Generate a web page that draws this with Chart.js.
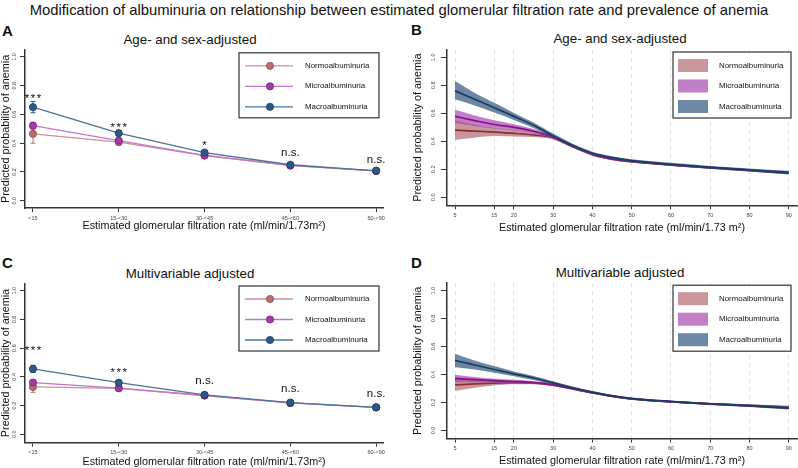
<!DOCTYPE html>
<html><head><meta charset="utf-8">
<script src="https://cdn.jsdelivr.net/npm/chart.js@4.4.0/dist/chart.umd.min.js"></script>
<style>
html,body{margin:0;padding:0;background:#fff;}
#wrap{position:relative;width:798px;height:468px;overflow:hidden;font-family:"Liberation Sans",Arial,sans-serif;background:#fff;}
canvas{position:absolute;left:0;top:0;}
.t{position:absolute;white-space:nowrap;color:#111;line-height:16px;}
.ttl{font-size:13.3px;text-align:center;width:300px;}
.lt{font-size:15px;font-weight:bold;}
</style></head><body>
<div id="wrap">
  <div class="t" style="left:0;top:2px;width:798px;text-align:center;font-size:14.8px;">Modification of albuminuria on relationship between estimated glomerular filtration rate and prevalence of anemia</div>
  <div class="t lt" style="left:2px;top:23px;">A</div>
  <div class="t lt" style="left:411px;top:22px;">B</div>
  <div class="t lt" style="left:2px;top:255px;">C</div>
  <div class="t lt" style="left:411px;top:255px;">D</div>
  <div class="t ttl" style="left:40px;top:32px;">Age- and sex-adjusted</div>
  <div class="t ttl" style="left:470px;top:31px;">Age- and sex-adjusted</div>
  <div class="t ttl" style="left:40px;top:266px;">Multivariable adjusted</div>
  <div class="t ttl" style="left:470px;top:265px;">Multivariable adjusted</div>
  <canvas id="cA" width="798" height="468"></canvas>
  <canvas id="cB" width="798" height="468"></canvas>
  <canvas id="cC" width="798" height="468"></canvas>
  <canvas id="cD" width="798" height="468"></canvas>
</div>
<script>
// ---------- data ----------
const egfrGroups = ['<15', '15-<30', '30-<45', '45-<60', '60-<90'];
const seriesNames = ['Normoalbuminuria', 'Microalbuminuria', 'Macroalbuminuria'];
const yTickValues = [0, 0.2, 0.4, 0.6, 0.8, 1.0];
const egfrTicks = [5, 15, 20, 30, 40, 50, 60, 70, 80, 90];

// Panel A: age- and sex-adjusted, categorical eGFR
const aNormo   = [0.465, 0.407, 0.314, 0.244, 0.207];
const aNormoLo = [0.400, 0.390, 0.305, 0.238, 0.202];
const aNormoHi = [0.530, 0.425, 0.323, 0.250, 0.212];
const aMicro   = [0.522, 0.418, 0.316, 0.245, 0.207];
const aMicroLo = [0.500, 0.402, 0.307, 0.239, 0.202];
const aMicroHi = [0.545, 0.435, 0.325, 0.251, 0.212];
const aMacro   = [0.651, 0.470, 0.335, 0.250, 0.208];
const aMacroLo = [0.612, 0.455, 0.325, 0.243, 0.203];
const aMacroHi = [0.690, 0.485, 0.345, 0.257, 0.213];
const aSig  = ['***', '***', '*', 'n.s.', 'n.s.'];
const aSigY = [0.687, 0.485, 0.362, 0.311, 0.262];

// Panel C: multivariable adjusted, categorical eGFR
const cNormo   = [0.330, 0.320, 0.270, 0.218, 0.187];
const cNormoLo = [0.292, 0.308, 0.263, 0.213, 0.183];
const cNormoHi = [0.365, 0.332, 0.277, 0.223, 0.191];
const cMicro   = [0.360, 0.322, 0.270, 0.218, 0.187];
const cMicroLo = [0.340, 0.310, 0.263, 0.213, 0.183];
const cMicroHi = [0.380, 0.335, 0.277, 0.223, 0.191];
const cMacro   = [0.455, 0.359, 0.275, 0.220, 0.188];
const cMacroLo = [0.430, 0.345, 0.267, 0.214, 0.184];
const cMacroHi = [0.480, 0.375, 0.283, 0.226, 0.192];
const cSig  = ['***', '***', 'n.s.', 'n.s.', 'n.s.'];
const cSigY = [0.561, 0.404, 0.352, 0.292, 0.260];

// Panels B & D: continuous eGFR
const egfr = [5, 10, 15, 20, 25, 30, 35, 40, 45, 50, 60, 70, 80, 90];
const bNormo   = [0.480, 0.473, 0.466, 0.457, 0.445, 0.425, 0.362, 0.305, 0.273, 0.255, 0.232, 0.212, 0.194, 0.177];
const bNormoHi = [0.550, 0.520, 0.495, 0.480, 0.460, 0.437, 0.372, 0.313, 0.281, 0.263, 0.240, 0.220, 0.202, 0.186];
const bNormoLo = [0.410, 0.426, 0.437, 0.434, 0.430, 0.413, 0.352, 0.297, 0.265, 0.247, 0.224, 0.204, 0.186, 0.168];
const bMicro   = [0.578, 0.548, 0.520, 0.500, 0.472, 0.430, 0.365, 0.308, 0.275, 0.256, 0.232, 0.212, 0.193, 0.174];
const bMicroHi = [0.625, 0.585, 0.550, 0.522, 0.488, 0.442, 0.375, 0.316, 0.283, 0.264, 0.240, 0.220, 0.202, 0.184];
const bMicroLo = [0.530, 0.510, 0.490, 0.478, 0.456, 0.418, 0.355, 0.300, 0.267, 0.248, 0.224, 0.204, 0.184, 0.164];
const bMacro   = [0.760, 0.700, 0.640, 0.578, 0.515, 0.440, 0.370, 0.315, 0.283, 0.262, 0.236, 0.214, 0.195, 0.176];
const bMacroHi = [0.830, 0.745, 0.675, 0.603, 0.535, 0.455, 0.382, 0.325, 0.293, 0.272, 0.246, 0.224, 0.206, 0.189];
const bMacroLo = [0.700, 0.655, 0.605, 0.553, 0.495, 0.425, 0.358, 0.305, 0.273, 0.252, 0.226, 0.204, 0.184, 0.163];

const dNormo   = [0.326, 0.333, 0.338, 0.342, 0.340, 0.326, 0.298, 0.270, 0.245, 0.227, 0.206, 0.191, 0.179, 0.167];
const dNormoHi = [0.370, 0.360, 0.355, 0.354, 0.350, 0.335, 0.306, 0.277, 0.252, 0.234, 0.213, 0.198, 0.187, 0.176];
const dNormoLo = [0.282, 0.306, 0.321, 0.330, 0.330, 0.317, 0.290, 0.263, 0.238, 0.220, 0.199, 0.184, 0.171, 0.158];
const dMicro   = [0.372, 0.363, 0.356, 0.350, 0.342, 0.326, 0.298, 0.270, 0.245, 0.226, 0.205, 0.190, 0.177, 0.164];
const dMicroHi = [0.398, 0.382, 0.370, 0.362, 0.352, 0.335, 0.306, 0.277, 0.252, 0.233, 0.212, 0.197, 0.185, 0.173];
const dMicroLo = [0.345, 0.344, 0.342, 0.338, 0.332, 0.317, 0.290, 0.263, 0.238, 0.219, 0.198, 0.183, 0.169, 0.155];
const dMacro   = [0.500, 0.468, 0.436, 0.405, 0.375, 0.340, 0.305, 0.274, 0.247, 0.228, 0.207, 0.190, 0.176, 0.160];
const dMacroHi = [0.548, 0.500, 0.460, 0.422, 0.390, 0.352, 0.315, 0.282, 0.255, 0.236, 0.214, 0.197, 0.184, 0.170];
const dMacroLo = [0.452, 0.436, 0.412, 0.388, 0.360, 0.328, 0.295, 0.266, 0.239, 0.220, 0.200, 0.183, 0.168, 0.150];

// ---------- styles ----------
const FONT = '"Liberation Sans", Arial, sans-serif';
const catStyle = [
  {line: '#c99199', marker: '#b5716f', edge: '#8e4a4a'},
  {line: '#c674c8', marker: '#a43aa6', edge: '#78207a'},
  {line: '#4a7497', marker: '#2c5a85', edge: '#1c3d5e'}
];
const bandStyle = [
  {band: 'rgba(178,106,112,0.7)', line: '#8a2f33'},
  {band: 'rgba(168,72,174,0.7)', line: '#880f8a'},
  {band: 'rgba(45,85,126,0.7)', line: '#1b3b61'}
];

Chart.defaults.font.family = FONT;
Chart.defaults.animation = false;

const yTickLabelPlugin = {
  id: 'yTickLabels',
  afterDraw(chart, args, opts) {
    const ctx = chart.ctx, ys = chart.scales.y, ca = chart.chartArea;
    ctx.save();
    ctx.fillStyle = '#444';
    ctx.font = '5.5px ' + FONT;
    ctx.textAlign = 'center';
    ctx.textBaseline = 'middle';
    ys.ticks.forEach(t => {
      const y = ys.getPixelForValue(t.value);
      ctx.save();
      ctx.translate(ca.left - opts.offset, y);
      ctx.rotate(-Math.PI / 2);
      ctx.fillText(t.value.toFixed(1), 0, 0);
      ctx.restore();
    });
    ctx.restore();
  }
};

const errorBarPlugin = {
  id: 'errorBars',
  beforeDatasetsDraw(chart) {
    const ctx = chart.ctx, xs = chart.scales.x, ys = chart.scales.y;
    ctx.save();
    ctx.lineWidth = 1;
    for (let i = chart.data.datasets.length - 1; i >= 0; i--) {
      const ds = chart.data.datasets[i];
      if (!ds.lo) continue;
      ctx.strokeStyle = ds.backgroundColor;
      ds.lo.forEach((lo, j) => {
        const x = xs.getPixelForValue(j);
        const y1 = ys.getPixelForValue(lo), y2 = ys.getPixelForValue(ds.hi[j]);
        ctx.beginPath();
        ctx.moveTo(x, y1); ctx.lineTo(x, y2);
        ctx.moveTo(x - 2.5, y1); ctx.lineTo(x + 2.5, y1);
        ctx.moveTo(x - 2.5, y2); ctx.lineTo(x + 2.5, y2);
        ctx.stroke();
      });
    }
    ctx.restore();
  }
};

const sigPlugin = {
  id: 'sigLabels',
  afterDatasetsDraw(chart, args, opts) {
    if (!opts.labels) return;
    const ctx = chart.ctx, xs = chart.scales.x, ys = chart.scales.y;
    ctx.save();
    ctx.fillStyle = '#111';
    ctx.font = '11.5px ' + FONT;
    ctx.textAlign = 'center';
    ctx.textBaseline = 'alphabetic';
    opts.labels.forEach((lab, j) => {
      const star = lab.indexOf('*') >= 0;
      try { ctx.letterSpacing = star ? '1.5px' : '0px'; } catch (e) {}
      ctx.fillText(lab, xs.getPixelForValue(j) + (star ? 0.75 : 0), ys.getPixelForValue(opts.y[j]));
    });
    ctx.restore();
  }
};

const legendPlugin = {
  id: 'boxLegend',
  afterDraw(chart, args, opts) {
    const ctx = chart.ctx, ca = chart.chartArea;
    const left = ca.right - opts.fromRight, top = ca.top + opts.fromTop;
    ctx.save();
    ctx.fillStyle = '#fff';
    ctx.fillRect(left, top, opts.w, opts.h);
    ctx.strokeStyle = '#333';
    ctx.lineWidth = 1.2;
    ctx.strokeRect(left, top, opts.w, opts.h);
    ctx.font = '7.9px ' + FONT;
    ctx.textBaseline = 'middle';
    ctx.textAlign = 'left';
    seriesNames.forEach((name, i) => {
      const y = top + opts.rows[i];
      if (opts.kind === 'cat') {
        const s = catStyle[i];
        ctx.strokeStyle = s.line; ctx.lineWidth = 1.3;
        ctx.beginPath(); ctx.moveTo(left + 6, y); ctx.lineTo(left + 54, y); ctx.stroke();
        ctx.beginPath(); ctx.arc(left + 31, y, 3.6, 0, Math.PI * 2);
        ctx.fillStyle = s.marker; ctx.fill();
        ctx.strokeStyle = s.edge; ctx.lineWidth = 0.8; ctx.stroke();
        ctx.fillStyle = '#111';
        ctx.fillText(name, left + 66, y);
      } else {
        ctx.fillStyle = bandStyle[i].band;
        ctx.fillRect(left + 5, y - 6.5, 30, 13);
        ctx.fillStyle = '#111';
        ctx.fillText(name, left + 46, y);
      }
    });
    ctx.restore();
  }
};

function yScaleOpts(min, max, width, titlePad, tickLen) {
  return {
    type: 'linear', min: min, max: max,
    afterBuildTicks: s => { s.ticks = yTickValues.map(v => ({value: v})); },
    afterFit: s => { s.width = width; },
    ticks: {display: false},
    grid: {display: true, drawOnChartArea: false, tickLength: tickLen, tickColor: '#333', tickWidth: 1},
    border: {display: true, color: '#333', width: 1.5},
    title: {display: true, text: 'Predicted probability of anemia', color: '#111',
            font: {size: 10.8, family: FONT}, padding: {top: titlePad, bottom: 0}}
  };
}

function catChart(id, pad, yMin, yMax, xH, xTitlePad, vals, los, his, sig, sigY, legendTop) {
  const datasets = vals.map((v, i) => ({
    label: seriesNames[i],
    data: v.map((y, j) => ({x: j, y: y})),
    lo: los[i], hi: his[i],
    borderColor: catStyle[i].line,
    backgroundColor: catStyle[i].marker,
    pointBackgroundColor: catStyle[i].marker,
    pointBorderColor: catStyle[i].edge,
    pointRadius: 3.6, pointBorderWidth: 0.8, borderWidth: 1.3,
    order: 3 - i, tension: 0
  }));
  new Chart(document.getElementById(id), {
    type: 'line',
    data: {datasets},
    plugins: [errorBarPlugin, sigPlugin, legendPlugin, yTickLabelPlugin],
    options: {
      responsive: false, devicePixelRatio: 1, animation: false,
      layout: {padding: pad},
      plugins: {
        legend: {display: false}, tooltip: {enabled: false},
        sigLabels: {labels: sig, y: sigY},
        boxLegend: {kind: 'cat', fromRight: 144, fromTop: legendTop, w: 140, h: 65, rows: [13, 33.5, 54]},
        yTickLabels: {offset: 11}
      },
      scales: {
        x: {
          type: 'linear', min: -0.093, max: 4.08,
          afterBuildTicks: s => { s.ticks = egfrGroups.map((g, j) => ({value: j})); },
          afterFit: s => { s.height = xH; },
          ticks: {callback: v => egfrGroups[v], font: {size: 5.5}, color: '#444', padding: 3, maxRotation: 0, autoSkip: false},
          grid: {display: true, drawOnChartArea: false, tickLength: 4, tickColor: '#333'},
          border: {display: true, color: '#333', width: 1.5},
          title: {display: true, text: 'Estimated glomerular filtration rate (ml/min/1.73m²)', color: '#111',
                  font: {size: 10.8, family: FONT}, padding: {top: 0, bottom: xTitlePad}}
        },
        y: yScaleOpts(yMin, yMax, 25, 0, 5)
      }
    }
  });
}

function bandChart(id, pad, yMin, yMax, xH, xTitlePad, mids, his, los) {
  const datasets = [];
  mids.forEach((m, i) => {
    const base = 100 - i * 10;
    const st = bandStyle[i];
    const idx = datasets.length;
    datasets.push({label: seriesNames[i] + ' upper', data: egfr.map((x, j) => ({x, y: his[i][j]})),
      borderWidth: 0, pointRadius: 0, backgroundColor: st.band, fill: idx + 1,
      cubicInterpolationMode: 'monotone', order: base});
    datasets.push({label: seriesNames[i] + ' lower', data: egfr.map((x, j) => ({x, y: los[i][j]})),
      borderWidth: 0, pointRadius: 0, backgroundColor: st.band, fill: false,
      cubicInterpolationMode: 'monotone', order: base - 1});
    datasets.push({label: seriesNames[i], data: egfr.map((x, j) => ({x, y: m[j]})),
      borderWidth: 1.7, pointRadius: 0, borderColor: st.line, fill: false,
      cubicInterpolationMode: 'monotone', order: base - 2});
  });
  new Chart(document.getElementById(id), {
    type: 'line',
    data: {datasets},
    plugins: [legendPlugin, yTickLabelPlugin],
    options: {
      responsive: false, devicePixelRatio: 1, animation: false,
      layout: {padding: pad},
      plugins: {
        legend: {display: false}, tooltip: {enabled: false},
        filler: {propagate: false},
        boxLegend: {kind: 'band', fromRight: 124, fromTop: 2, w: 118, h: 66, rows: [13.5, 34, 54.5]},
        yTickLabels: {offset: 14}
      },
      scales: {
        x: {
          type: 'linear', min: 2.96, max: 92.1,
          afterBuildTicks: s => { s.ticks = egfrTicks.map(v => ({value: v})); },
          afterFit: s => { s.height = xH; },
          ticks: {font: {size: 5.5}, color: '#444', padding: 3, maxRotation: 0, autoSkip: false},
          grid: {display: true, drawOnChartArea: true, color: '#d8d8d8', lineWidth: 0.8,
                 tickLength: 4, tickColor: '#333', tickWidth: 1},
          border: {display: true, color: '#333', width: 1.5, dash: [4, 4]},
          title: {display: true, text: 'Estimated glomerular filtration rate (ml/min/1.73 m²)', color: '#111',
                  font: {size: 10.8, family: FONT}, padding: {top: 0, bottom: xTitlePad}}
        },
        y: yScaleOpts(yMin, yMax, 40, 4.5, 6)
      }
    }
  });
}

catChart('cA', {left: 0, right: 415, top: 49.8, bottom: 230}, -0.051, 1.05, 30, 5,
  [aNormo, aMicro, aMacro], [aNormoLo, aMicroLo, aMacroLo], [aNormoHi, aMicroHi, aMacroHi], aSig, aSigY, 3);
catChart('cC', {left: 0, right: 415, top: 283.5, bottom: 0}, -0.058, 1.05, 25.4, -1,
  [cNormo, cMicro, cMacro], [cNormoLo, cMicroLo, cMacroLo], [cNormoHi, cMicroHi, cMacroHi], cSig, cSigY, 2.5);
bandChart('cB', {left: 407, right: 1, top: 50, bottom: 232.7}, -0.057, 1.052, 30, 0.5,
  [bNormo, bMicro, bMacro], [bNormoHi, bMicroHi, bMacroHi], [bNormoLo, bMicroLo, bMacroLo]);
bandChart('cD', {left: 407, right: 1, top: 283.2, bottom: 0}, -0.057, 1.052, 29.5, 0,
  [dNormo, dMicro, dMacro], [dNormoHi, dMicroHi, dMacroHi], [dNormoLo, dMicroLo, dMacroLo]);
</script>
</body></html>
